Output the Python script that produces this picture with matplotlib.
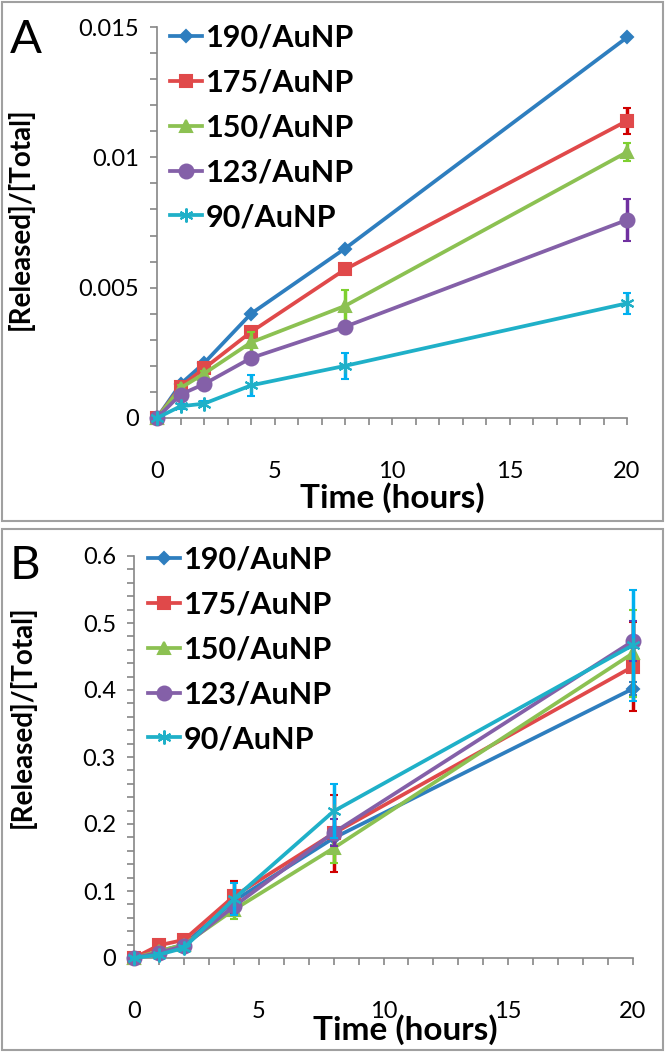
import numpy as np
import matplotlib.pyplot as plt
from matplotlib.patches import Rectangle
from matplotlib.lines import Line2D

plt.rcParams['font.family'] = ['Lato', 'DejaVu Sans']

t = [0, 1, 2, 4, 8, 20]
labels = ['190/AuNP', '175/AuNP', '150/AuNP', '123/AuNP', '90/AuNP']

# panel A
a_190 = [0, 0.0013, 0.0021, 0.0040, 0.0065, 0.0146]
a_175 = [0, 0.0012, 0.0019, 0.0033, 0.0057, 0.0114]
a_150 = [0, 0.00115, 0.0017, 0.0029, 0.0043, 0.0102]
a_123 = [0, 0.0009, 0.0013, 0.0023, 0.0035, 0.0076]
a_90 = [0, 0.00045, 0.00055, 0.00125, 0.0020, 0.0044]
a_190_err = [0, 0, 0, 0, 0, 0]
a_175_err = [0, 0.0001, 0.0001, 0.0002, 0.0001, 0.0005]
a_150_err = [0, 0.0001, 0.0001, 0.0004, 0.0006, 0.00035]
a_123_err = [0, 0.0001, 0.0001, 0.0001, 0.0001, 0.0008]
a_90_err = [0, 0.0001, 0.0001, 0.0004, 0.0005, 0.0004]

# panel B
b_190 = [0, 0.010, 0.020, 0.085, 0.179, 0.402]
b_175 = [0, 0.019, 0.027, 0.092, 0.186, 0.435]
b_150 = [0, 0.010, 0.020, 0.072, 0.164, 0.455]
b_123 = [0, 0.008, 0.018, 0.077, 0.187, 0.473]
b_90 = [0, 0.005, 0.015, 0.088, 0.219, 0.467]
b_190_err = [0, 0.002, 0.003, 0.010, 0.010, 0.010]
b_175_err = [0, 0.003, 0.004, 0.023, 0.058, 0.066]
b_150_err = [0, 0.002, 0.003, 0.014, 0.022, 0.065]
b_123_err = [0, 0.002, 0.003, 0.010, 0.020, 0.030]
b_90_err = [0, 0.002, 0.003, 0.024, 0.040, 0.083]

line_colors = ['#2E7EBF', '#E0494A', '#8CC152', '#8460A8', '#1FB0C8']
err_colors = ['#2E7EBF', '#D00000', '#7ED030', '#7030A0', '#00B0F0']
markers = ['D', 's', '^', 'o', (6, 2, 0)]
msizes = [6, 9, 9, 10, 10]

W, H = 666, 1054
fig = plt.figure(figsize=(W / 100, H / 100), dpi=100)


def px_axes(left, top, right, bottom):
    return fig.add_axes([left / W, 1 - bottom / H, (right - left) / W, (bottom - top) / H])


def style(ax, ymax, ymaj, ymin, yfmt, xlab_pos, ylab_pos):
    ax.set_xlim(0, 20)
    ax.set_ylim(0, ymax)
    ax.set_xticks(np.arange(0, 21, 1), minor=True)
    ax.set_xticks([0, 5, 10, 15, 20])
    ax.set_yticks(np.arange(0, ymax + ymin / 2, ymin), minor=True)
    ax.set_yticks(np.arange(0, ymax + ymaj / 2, ymaj))
    ax.set_yticklabels([yfmt(v) for v in np.arange(0, ymax + ymaj / 2, ymaj)])
    for s in ['top', 'right']:
        ax.spines[s].set_visible(False)
    for s in ['left', 'bottom']:
        ax.spines[s].set_color('#868686')
        ax.spines[s].set_linewidth(1.2)
    ax.tick_params(which='both', direction='out', length=5, width=1.2, color='#868686')
    ax.tick_params(axis='x', which='major', pad=26, labelsize=17)
    ax.tick_params(axis='y', which='major', pad=8, labelsize=17)
    ax.set_xlabel('Time (hours)', fontsize=24, fontweight='bold')
    ax.set_ylabel('[Released]/[Total]', fontsize=20, fontweight='bold')
    ax.xaxis.set_label_coords(*xlab_pos)
    ax.yaxis.set_label_coords(*ylab_pos)


def draw(ax, series, errs, leg_pos):
    handles = []
    for i in range(5):
        ax.errorbar(t, series[i], yerr=errs[i], color=line_colors[i], ecolor=err_colors[i],
                    elinewidth=2.5, capsize=3, capthick=2.5, lw=2.7,
                    marker=markers[i], ms=msizes[i], mew=1.5, mec=line_colors[i],
                    clip_on=False, zorder=3 + i)
        handles.append(Line2D([], [], color=line_colors[i], lw=2.7, marker=markers[i],
                              ms=msizes[i], mew=1.5, mec=line_colors[i]))
    ax.legend(handles, labels, loc='upper left', bbox_to_anchor=leg_pos, frameon=False,
              prop={'size': 22, 'weight': 'bold'}, handlelength=1.05,
              handletextpad=0.12, labelspacing=0.55, borderpad=0, borderaxespad=0)


# panel A
fig.add_artist(Rectangle((2 / W, 1 - 521 / H), 661 / W, 519 / H, transform=fig.transFigure,
                         fill=False, ec='#A0A0A0', lw=1.5))
axA = px_axes(157, 27, 627, 418)
draw(axA, [a_190, a_175, a_150, a_123, a_90],
     [a_190_err, a_175_err, a_150_err, a_123_err, a_90_err], (0.028, 1.008))
style(axA, 0.015, 0.005, 0.001, lambda v: '0' if v == 0 else ('%.3f' % v).rstrip('0'),
      (0.5, -0.163), (-0.262, 0.51))
fig.text(10 / W, 1 - 40 / H, 'A', fontsize=34, va='center', ha='left')

# panel B
fig.add_artist(Rectangle((2 / W, 1 - 1050 / H), 661 / W, 521 / H, transform=fig.transFigure,
                         fill=False, ec='#A0A0A0', lw=1.5))
axB = px_axes(134, 556, 633, 958)
draw(axB, [b_190, b_175, b_150, b_123, b_90],
     [b_190_err, b_175_err, b_150_err, b_123_err, b_90_err], (0.028, 1.025))
style(axB, 0.6, 0.1, 0.02, lambda v: '0' if v == 0 else '%.1f' % v,
      (0.543, -0.14), (-0.196, 0.6))
fig.text(10 / W, 1 - 566 / H, 'B', fontsize=34, va='center', ha='left')

fig.savefig('out.png', dpi=100)
